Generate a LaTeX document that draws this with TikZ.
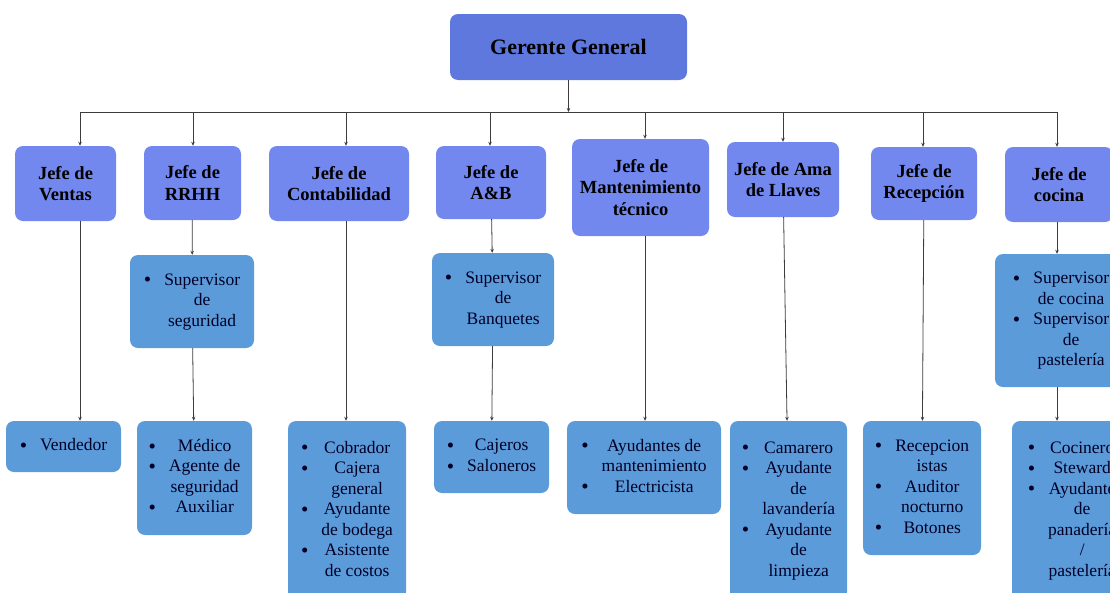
\documentclass[tikz,border=0pt]{standalone}
\usepackage{fontspec}
\setmainfont{Liberation Serif}
\usetikzlibrary{arrows.meta}

\definecolor{gerente}{RGB}{95,120,222}
\definecolor{jefes}{RGB}{114,136,238}
\definecolor{cargos}{RGB}{91,155,217}
\definecolor{trazo}{RGB}{60,60,60}

% lista con viñetas: viñeta a la izquierda, texto centrado
\newcommand{\vin}{\raisebox{-0.1em}[0pt][0pt]{\fontsize{21}{21}\selectfont\textbullet}}
\newcommand{\lista}[1]{\begin{tabular}{@{}c@{\hspace{13pt}}c@{}}#1\end{tabular}}

\begin{document}
\begin{tikzpicture}[x=1pt, y=-1pt,
    caja/.style = {rounded corners=8pt, inner sep=0pt},
    main/.style = {caja, fill=gerente, font=\fontsize{22}{26}\selectfont\bfseries},
    jefe/.style = {caja, fill=jefes, align=center, font=\fontsize{18.5}{21.5}\selectfont\bfseries},
    cargo/.style = {caja, fill=cargos, text=black!85!blue, font=\fontsize{17.5}{20.5}\selectfont},
    arr/.style = {draw=trazo, line width=0.8pt, -{Stealth[length=4pt,width=3.5pt]}},
    linea/.style = {draw=trazo, line width=0.8pt}]
  \useasboundingbox (0,0) rectangle (1110,592);

  \node[main, minimum width=237pt, minimum height=66pt] (gg) at (568.5,47) {Gerente General};

  % jefes
  \node[jefe, minimum width=101pt, minimum height=75pt] (j1) at (65.5,183.5) {Jefe de\\Ventas};
  \node[jefe, minimum width=97pt, minimum height=74pt] (j2) at (192.5,183) {Jefe de\\RRHH};
  \node[jefe, minimum width=140pt, minimum height=75pt] (j3) at (339,183.5) {Jefe de\\Contabilidad};
  \node[jefe, minimum width=110pt, minimum height=73pt] (j4) at (491,182.5) {Jefe de\\A\&B};
  \node[jefe, minimum width=137pt, minimum height=97pt] (j5) at (640.5,187.5) {Jefe de\\Mantenimiento\\técnico};
  \node[jefe, minimum width=112pt, minimum height=75pt] (j6) at (783,179.5) {Jefe de Ama\\de Llaves};
  \node[jefe, minimum width=106pt, minimum height=73pt] (j7) at (924,183.5) {Jefe de\\Recepción};
  \node[jefe, minimum width=108pt, minimum height=75pt] (j8) at (1059,184.5) {Jefe de\\cocina};

  % supervisores
  \node[cargo, minimum width=124pt, minimum height=93pt] (s2) at (192,301.5)
    {\lista{\vin & Supervisor\\ & de\\ & seguridad}};
  \node[cargo, minimum width=122pt, minimum height=93pt] (s4) at (493,299.5)
    {\lista{\vin & Supervisor\\ & de\\ & Banquetes}};
  \node[cargo, minimum width=132pt, minimum height=133pt] (s8) at (1061,320.5)
    {\lista{\vin & Supervisor\\ & de cocina\\ \vin & Supervisor\\ & de\\ & pastelería}};

  % personal
  \node[cargo, minimum width=115pt, minimum height=51pt] (v1) at (63.5,446.5)
    {\lista{\vin & Vendedor}};
  \node[cargo, minimum width=115pt, minimum height=114pt] (v2) at (194.5,478)
    {\lista{\vin & Médico\\ \vin & Agente de\\ & seguridad\\ \vin & Auxiliar}};
  \node[cargo, minimum width=118pt, minimum height=179pt] (v3) at (347,510.5)
    {\lista{\vin & Cobrador\\ \vin & Cajera\\ & general\\ \vin & Ayudante\\ & de bodega\\ \vin & Asistente\\ & de costos}};
  \node[cargo, minimum width=115pt, minimum height=72pt] (v4) at (491.5,457)
    {\lista{\vin & Cajeros\\ \vin & Saloneros}};
  \node[cargo, minimum width=154pt, minimum height=93pt] (v5) at (644,467.5)
    {\lista{\vin & Ayudantes de\\ & mantenimiento\\ \vin & Electricista}};
  \node[cargo, minimum width=117pt, minimum height=179pt] (v6) at (788.5,510.5)
    {\lista{\vin & Camarero\\ \vin & Ayudante\\ & de\\ & lavandería\\ \vin & Ayudante\\ & de\\ & limpieza}};
  \node[cargo, minimum width=118pt, minimum height=134pt] (v7) at (922,488)
    {\lista{\vin & Recepcion\\ & istas\\ \vin & Auditor\\ & nocturno\\ \vin & Botones}};
  \node[cargo, minimum width=120pt, minimum height=179pt] (v8) at (1072,510.5)
    {\lista{\vin & Cocinero\\ \vin & Steward\\ \vin & Ayudante\\ & de\\ & panadería\\ & /\\ & pastelería}};

  % barra de conexión
  \coordinate (bar) at (568.5,112);
  \coordinate (t1) at (80,112);
  \coordinate (t2) at (193,112);
  \coordinate (t3) at (346,112);
  \coordinate (t4) at (490,112);
  \coordinate (t5) at (645,112);
  \coordinate (t6) at (783,112);
  \coordinate (t7) at (923,112);
  \coordinate (t8) at (1057,112);

  \draw[arr] (gg) -- (bar);
  \draw[linea] (t1) -- (t8);
  \draw[arr] (t1) -- (t1 |- j1.north);
  \draw[arr] (t2) -- (t2 |- j2.north);
  \draw[arr] (t3) -- (t3 |- j3.north);
  \draw[arr] (t4) -- (t4 |- j4.north);
  \draw[arr] (t5) -- (t5 |- j5.north);
  \draw[arr] (t6) -- (t6 |- j6.north);
  \draw[arr] (t7) -- (t7 |- j7.north);
  \draw[arr] (t8) -- (t8 |- j8.north);

  \draw[arr] (t1 |- j1.south) -- (t1 |- v1.north);
  \draw[arr] (j2) -- (s2);
  \draw[arr] (s2) -- (v2);
  \draw[arr] (t3 |- j3.south) -- (t3 |- v3.north);
  \draw[arr] (j4) -- (s4);
  \draw[arr] (s4) -- (v4);
  \draw[arr] (t5 |- j5.south) -- (t5 |- v5.north);
  \draw[arr] (j6) -- (v6);
  \draw[arr] (j7) -- (v7);
  \draw[arr] (t8 |- j8.south) -- (t8 |- s8.north);
  \draw[arr] (t8 |- s8.south) -- (t8 |- v8.north);
\end{tikzpicture}
\end{document}
